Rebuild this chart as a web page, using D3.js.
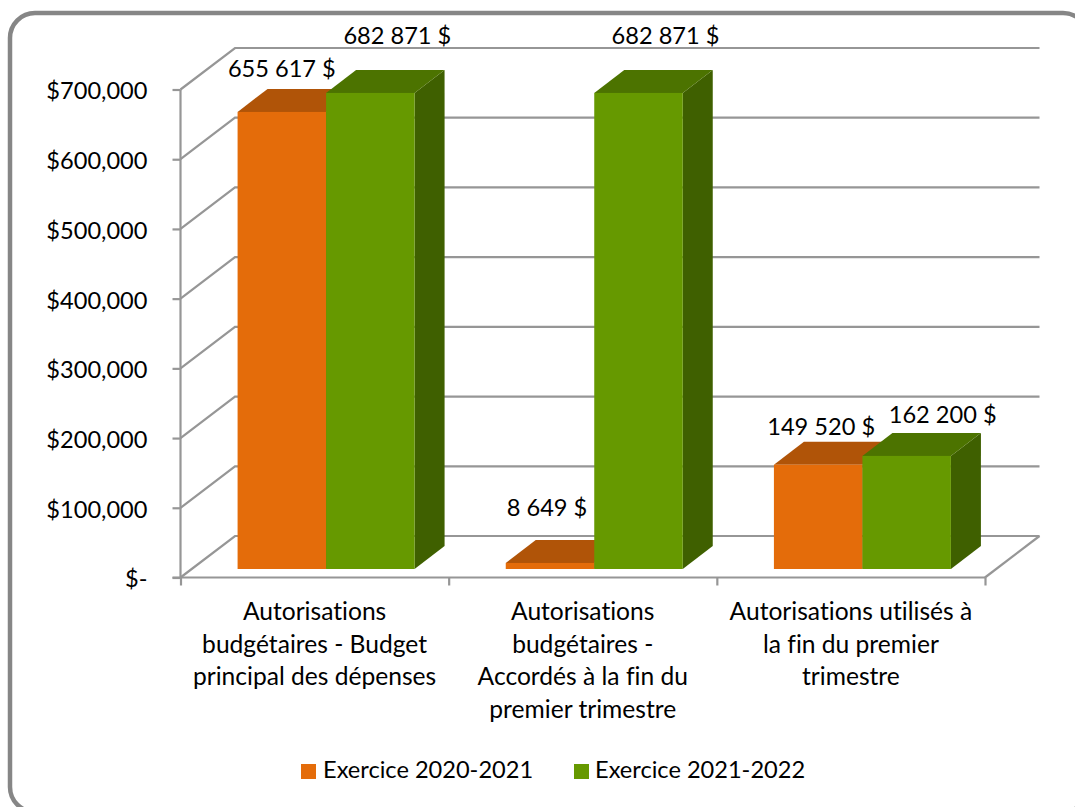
<!DOCTYPE html>
<html lang="fr">
<head>
<meta charset="UTF-8">
<title>Autorisations</title>
<script src="https://d3js.org/d3.v7.min.js"></script>
<style>
  html, body { margin: 0; padding: 0; background: #fff; overflow: hidden; }
  svg { display: block; }
  text { font-family: Lato, "Open Sans", sans-serif; fill: #000; font-variant-ligatures: none; }
</style>
</head>
<body>
<div id="chart"></div>
<script>
const categories = [
    ["Autorisations", "budgétaires - Budget", "principal des dépenses"],
    ["Autorisations", "budgétaires -", "Accordés à la fin du", "premier trimestre"],
    ["Autorisations utilisés à", "la fin du premier", "trimestre"]
];
const seriesNames = ["Exercice 2020-2021", "Exercice 2021-2022"];
const values2021 = [655617, 8649, 149520];
const values2122 = [682871, 682871, 162200];
const labels2021 = ["655 617 $", "8 649 $", "149 520 $"];
const labels2122 = ["682 871 $", "682 871 $", "162 200 $"];
const yTicks = [0, 100000, 200000, 300000, 400000, 500000, 600000, 700000];

const W = 1075, H = 807;
const fontSize = 23.6;
const catFontSize = 24.6;

// floor and wall depth of the fake 3d box
const wallDx = 54.5, wallDy = -41.5;
const barDx = 30, barDy = -23;
const gapDx = 11.5, gapDy = -8.5;

// data labels were placed by hand in the original, offsets from the bar's top front edge
const labelNudge = [
    [[0, -35], [-3, -47], [3, -30]],
    [[27, -49], [27, -49], [36, -33]]
];

const colors = [
    { front: "#e46c0a", top: "#b05408", side: "#8f4406" },
    { front: "#669900", top: "#4c7300", side: "#3f6000" }
];

const svg = d3.select("#chart").append("svg")
    .attr("width", W)
    .attr("height", H);

// frame runs off the right and bottom of the page
svg.append("rect")
    .attr("x", 10).attr("y", 13)
    .attr("width", 1078).attr("height", 799)
    .attr("rx", 25)
    .attr("fill", "#fff")
    .attr("stroke", "#868686")
    .attr("stroke-width", 4.5);

const x = d3.scaleBand().domain(d3.range(3)).range([180.5, 985]);
const y = d3.scaleLinear().domain([0, 700000]).range([577.5, 89.5]);
const inner = d3.scaleBand().domain([0, 1]).range([0, 177]);
const barStart = i => x(i) + (x.bandwidth() - 177) / 2 + gapDx;

// back wall and floor lines
const grid = svg.append("g").attr("fill", "none").attr("stroke", "#969696").attr("stroke-width", 2.2);
yTicks.forEach(t => {
    grid.append("path").attr("d", d3.line()([
        [x.range()[0], y(t)],
        [x.range()[0] + wallDx, y(t) + wallDy],
        [x.range()[1] + wallDx, y(t) + wallDy]
    ]));
});
grid.append("path").attr("d", d3.line()([
    [x.range()[1], y(0)],
    [x.range()[1] + wallDx, y(0) + wallDy]
]));

// axes
const yAxis = d3.axisLeft(y).tickValues(yTicks).tickSize(8)
    .tickPadding(25)
    .tickFormat(d => d === 0 ? "$-" : d3.format("$,")(d));
const gy = svg.append("g").attr("transform", `translate(${x.range()[0]},0)`).call(yAxis);
const xAxis = d3.axisBottom(d3.scaleLinear().domain([0, 3]).range(x.range()))
    .tickValues([0, 1, 2, 3]).tickSize(8).tickFormat("");
const gx = svg.append("g").attr("transform", `translate(0,${y(0)})`).call(xAxis);
[gy, gx].forEach(g => {
    g.selectAll("path, line").attr("stroke", "#969696").attr("stroke-width", 2.2);
    g.select(".domain").attr("d", g === gy
        ? `M0,${y(700000)}V${y(0)}` : `M${x.range()[0] - 8},0H${x.range()[1]}`);
});
gy.selectAll("text").attr("font-size", fontSize).attr("dy", "0.4em").attr("fill", "#000");

// bars, orange first so the green one sits over its top face
const barBase = y(0) + gapDy;
const h = d => y(0) - y(d);
function drawBar(i, s, value) {
    const c = colors[s];
    const x0 = barStart(i) + inner(s), x1 = x0 + inner.bandwidth();
    const yTop = barBase - h(value);
    const line = d3.line();
    svg.append("path").attr("fill", c.side).attr("d", line([
        [x1, barBase], [x1 + barDx, barBase + barDy], [x1 + barDx, yTop + barDy], [x1, yTop]
    ]) + "Z");
    svg.append("path").attr("fill", c.top).attr("d", line([
        [x0, yTop], [x0 + barDx, yTop + barDy], [x1 + barDx, yTop + barDy], [x1, yTop]
    ]) + "Z");
    svg.append("rect").attr("fill", c.front)
        .attr("x", x0).attr("y", yTop)
        .attr("width", x1 - x0).attr("height", barBase - yTop);
}
d3.range(3).forEach(i => {
    drawBar(i, 0, values2021[i]);
    drawBar(i, 1, values2122[i]);
});

// data labels
const labelGroup = svg.append("g").attr("font-size", fontSize).attr("text-anchor", "middle");
d3.range(3).forEach(i => {
    [[values2021, labels2021], [values2122, labels2122]].forEach(([vals, labs], s) => {
        const [dx, dy] = labelNudge[s][i];
        labelGroup.append("text")
            .attr("x", barStart(i) + inner(s) + inner.bandwidth() / 2 + dx)
            .attr("y", barBase - h(vals[i]) + dy)
            .text(labs[i]);
    });
});

// category labels
const catGroup = svg.append("g").attr("font-size", catFontSize).attr("text-anchor", "middle");
const lineH = 32.5;
categories.forEach((lines, i) => {
    lines.forEach((l, j) => {
        catGroup.append("text")
            .attr("x", x(i) + x.bandwidth() / 2)
            .attr("y", 620 + j * lineH)
            .text(l);
    });
});

// legend
const legend = svg.append("g").attr("font-size", fontSize);
[[301, 323], [574, 595]].forEach(([bx, tx], s) => {
    legend.append("rect").attr("x", bx).attr("y", 764).attr("width", 15).attr("height", 15).attr("fill", colors[s].front);
    legend.append("text").attr("x", tx).attr("y", 778).text(seriesNames[s]);
});
</script>
</body>
</html>
